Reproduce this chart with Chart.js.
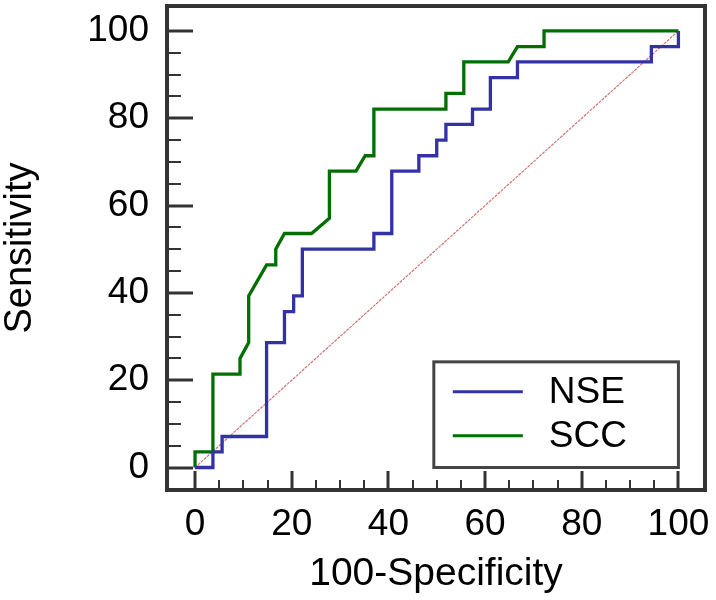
<!DOCTYPE html>
<html><head><meta charset="utf-8">
<script src="https://cdn.jsdelivr.net/npm/chart.js@4/dist/chart.umd.min.js"></script>
<style>html,body{margin:0;padding:0;background:#fff}</style>
</head><body>
<canvas id="c" width="716" height="600"></canvas>
<script>
const seriesNames = ['NSE', 'SCC'];
const nseFpr = [0,3.7,3.7,5.6,5.6,14.8,14.8,18.5,18.5,20.4,20.4,22.2,22.2,37,37,40.7,40.7,46.3,46.3,50,50,51.9,51.9,57.4,57.4,61.1,61.1,66.7,66.7,94.4,94.4,100,100];
const nseTpr = [0,0,3.6,3.6,7.1,7.1,28.6,28.6,35.7,35.7,39.3,39.3,50,50,53.6,53.6,67.9,67.9,71.4,71.4,75,75,78.6,78.6,82.1,82.1,89.3,89.3,92.9,92.9,96.4,96.4,100];
const sccFpr = [0,0,3.7,3.7,9.3,9.3,11.1,11.1,14.8,16.7,16.7,18.5,24.1,27.8,27.8,33.3,35.2,37,37,51.9,51.9,55.6,55.6,64.8,66.7,72.2,72.2,100];
const sccTpr = [0,3.6,3.6,21.4,21.4,25,28.6,39.3,46.4,46.4,50,53.6,53.6,57.1,67.9,67.9,71.4,71.4,82.1,82.1,85.7,85.7,92.9,92.9,96.4,96.4,100,100];
const refFpr = [0, 100];
const refTpr = [0, 100];
const tickLabels = [0, 20, 40, 60, 80, 100];
const minorStep = 5;
const xTitle = '100-Specificity';
const yTitle = 'Sensitivity';

const colors = ['#3232a4', '#006f00'];
const pts = (xs, ys) => xs.map((x, i) => ({x: x, y: ys[i]}));

const FONT = 'Liberation Sans, Arial, sans-serif';

const framePlugin = {
  id: 'frame',
  afterDatasetsDraw(chart) {
    const ctx = chart.ctx;
    const a = chart.chartArea;
    const xs = chart.scales.x, ys = chart.scales.y;
    ctx.save();
    ctx.strokeStyle = '#333';
    for (let v = 0; v <= 100; v += minorStep) {
      const major = tickLabels.includes(v);
      ctx.lineWidth = major ? 3 : 2;
      const py = Math.round(ys.getPixelForValue(v));
      ctx.beginPath();
      ctx.moveTo(a.left, py);
      ctx.lineTo(a.left + (major ? 26 : 14), py);
      ctx.stroke();
      const px = Math.round(xs.getPixelForValue(v));
      ctx.beginPath();
      ctx.moveTo(px, a.bottom);
      ctx.lineTo(px, a.bottom - (major ? 19 : 10));
      ctx.stroke();
    }
    ctx.lineWidth = 4;
    ctx.strokeRect(a.left, a.top, a.right - a.left, a.bottom - a.top);
    const bl = xs.getPixelForValue(49.4), br = xs.getPixelForValue(100);
    const bt = ys.getPixelForValue(24.2), bb = ys.getPixelForValue(0);
    ctx.lineWidth = 3;
    ctx.strokeStyle = '#444';
    ctx.strokeRect(bl, bt, br - bl, bb - bt);
    ctx.font = '37px ' + FONT;
    ctx.textBaseline = 'alphabetic';
    ctx.textAlign = 'left';
    const rows = [bt + 41, bt + 85];
    seriesNames.forEach((n, i) => {
      ctx.strokeStyle = colors[i];
      ctx.lineWidth = 3;
      ctx.beginPath();
      ctx.moveTo(bl + 19, rows[i] - 11);
      ctx.lineTo(bl + 89, rows[i] - 11);
      ctx.stroke();
      ctx.fillStyle = '#000';
      ctx.fillText(n, bl + 115, rows[i]);
    });
    ctx.restore();
  }
};

const zeroPad = s => { s.paddingTop = 0; s.paddingBottom = 0; s.paddingLeft = 0; s.paddingRight = 0; };

new Chart(document.getElementById('c'), {
  type: 'scatter',
  data: {
    datasets: [
      {label: seriesNames[0], data: pts(nseFpr, nseTpr), showLine: true, borderColor: colors[0], borderWidth: 3.3, pointRadius: 0, borderJoinStyle: 'miter', order: 1},
      {label: seriesNames[1], data: pts(sccFpr, sccTpr), showLine: true, borderColor: colors[1], borderWidth: 3.3, pointRadius: 0, borderJoinStyle: 'miter', order: 2},
      {label: 'ref', data: pts(refFpr, refTpr), showLine: true, borderColor: 'rgba(200,80,80,0.8)', borderWidth: 1.2, borderDash: [3, 1], pointRadius: 0, order: 3}
    ]
  },
  options: {
    responsive: false,
    animation: false,
    devicePixelRatio: 1,
    layout: {padding: {top: 6, right: 11, left: 0, bottom: 0}},
    plugins: {legend: {display: false}, tooltip: {enabled: false}},
    scales: {
      x: {
        type: 'linear', min: -5.8, max: 105.5,
        afterBuildTicks: s => { s.ticks = tickLabels.map(v => ({value: v})); },
        afterFit: s => { s.height = 110; zeroPad(s); },
        grid: {display: false, drawTicks: false},
        border: {display: false},
        ticks: {color: '#000', font: {family: FONT, size: 37}, padding: 13, maxRotation: 0, autoSkip: false},
        title: {display: true, text: xTitle, color: '#000', font: {family: FONT, size: 39}, padding: {top: 0, bottom: 2}}
      },
      y: {
        type: 'linear', min: -5.15, max: 105.7,
        afterBuildTicks: s => { s.ticks = tickLabels.map(v => ({value: v})); },
        afterFit: s => { s.width = 167; zeroPad(s); },
        grid: {display: false, drawTicks: false},
        border: {display: false},
        ticks: {color: '#000', font: {family: FONT, size: 37}, padding: 18, autoSkip: false},
        title: {display: true, text: yTitle, color: '#000', font: {family: FONT, size: 38, lineHeight: 1}, padding: {top: 2, bottom: 0}}
      }
    }
  },
  plugins: [framePlugin]
});
</script>
</body></html>
